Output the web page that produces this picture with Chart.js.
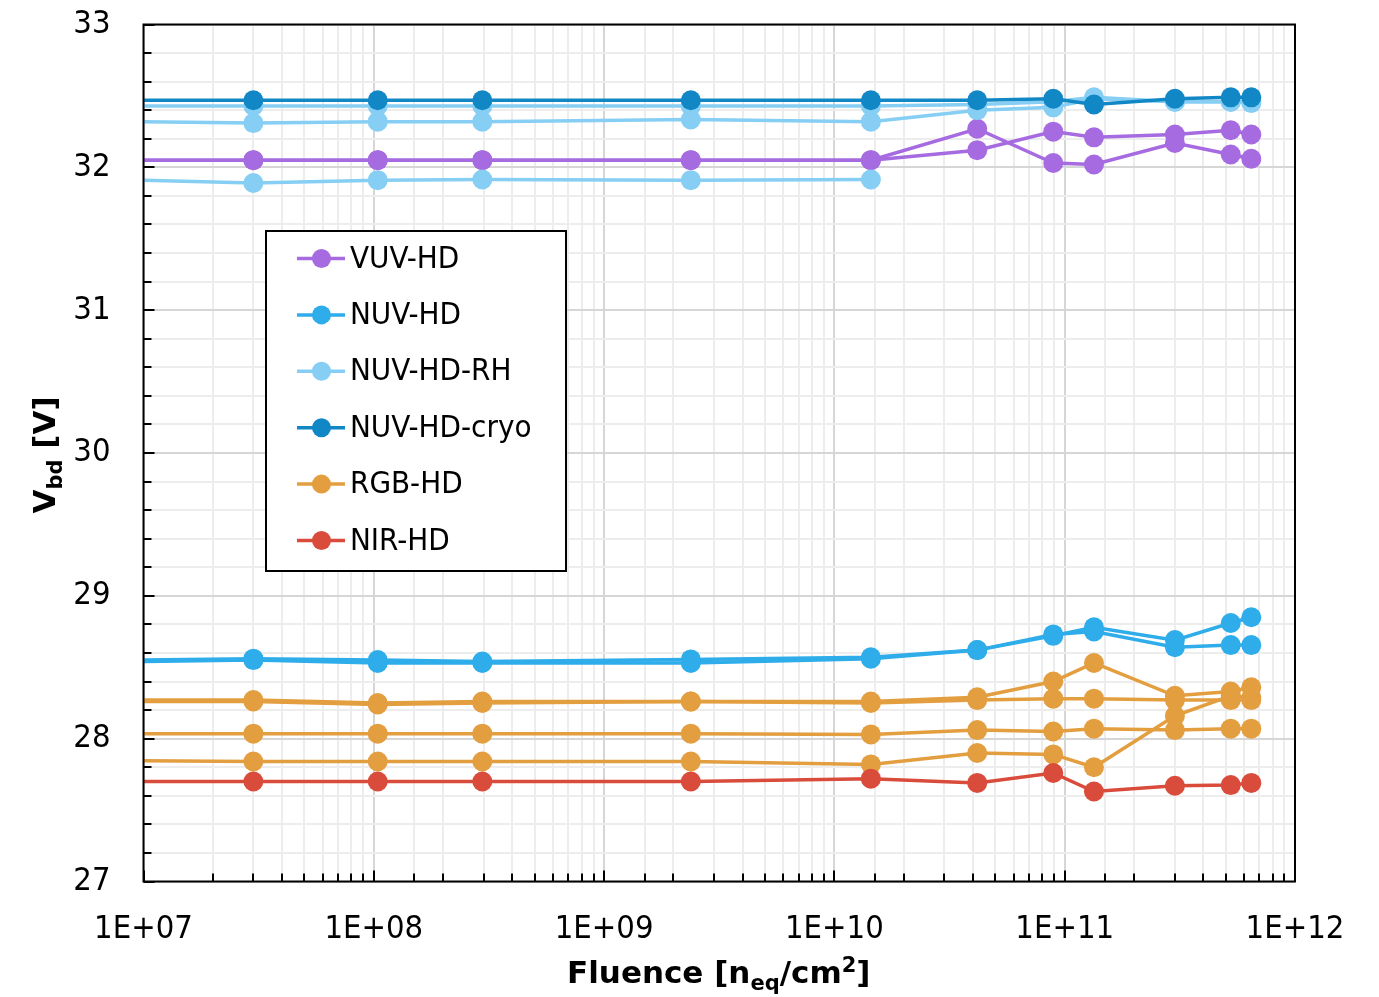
<!DOCTYPE html>
<html>
<head>
<meta charset="utf-8">
<style>
  html, body { margin: 0; padding: 0; background: #ffffff; }
  canvas { display: block; }
</style>
<script src="https://cdn.jsdelivr.net/npm/chart.js@4.4.1/dist/chart.umd.min.js"></script>
</head>
<body>
<canvas id="chart" width="1379" height="997"></canvas>
<script>
// Fluence steps [n_eq/cm^2]; the first entry is the pre-irradiation reference
const fluence = [1e7, 3.0e7, 1.04e8, 2.96e8, 2.38e9, 1.44e10, 4.17e10, 8.92e10, 1.34e11, 3.01e11, 5.26e11, 6.46e11];

// Breakdown voltage [V] per device, one value per fluence step (null = not measured)
const vuvA  = [32.05, 32.05, 32.05, 32.05, 32.05, 32.05, 32.27, 32.03, 32.02, 32.17, 32.09, 32.06];
const vuvB  = [32.05, 32.05, 32.05, 32.05, 32.05, 32.05, 32.12, 32.25, 32.21, 32.23, 32.26, 32.23];
const nuvA  = [28.55, 28.56, 28.55, 28.54, 28.555, 28.57, 28.62, 28.72, 28.78, 28.69, 28.81, 28.85];
const nuvB  = [28.54, 28.55, 28.53, 28.53, 28.53, 28.56, 28.62, 28.73, 28.75, 28.64, 28.655, 28.655];
const rhA   = [32.43, 32.43, 32.43, 32.43, 32.43, 32.43, 32.44, 32.46, 32.49, 32.46, 32.46, 32.46];
const rhB   = [32.32, 32.31, 32.32, 32.32, 32.335, 32.32, 32.40, 32.42, 32.48, 32.46, 32.46, 32.45];
const rhC   = [31.91, 31.89, 31.91, 31.915, 31.91, 31.915, null, null, null, null, null, null];
const cryoA = [32.47, 32.47, 32.47, 32.47, 32.47, 32.47, 32.47, 32.48, 32.44, 32.48, 32.49, 32.49];
const rgbA  = [28.27, 28.27, 28.25, 28.26, 28.26, 28.26, 28.29, 28.40, 28.53, 28.30, 28.33, 28.36];
const rgbB  = [28.26, 28.26, 28.24, 28.25, 28.26, 28.25, 28.27, 28.28, 28.28, 28.27, 28.27, 28.27];
const rgbC  = [28.035, 28.035, 28.035, 28.035, 28.035, 28.03, 28.06, 28.05, 28.07, 28.06, 28.07, 28.07];
const rgbD  = [27.845, 27.84, 27.84, 27.84, 27.84, 27.82, 27.90, 27.89, 27.80, 28.16, 28.30, 28.29];
const nirA  = [27.70, 27.70, 27.70, 27.70, 27.70, 27.72, 27.69, 27.76, 27.63, 27.67, 27.675, 27.69];

// Technologies, in legend order, with their devices
const families = ['VUV-HD', 'NUV-HD', 'NUV-HD-RH', 'NUV-HD-cryo', 'RGB-HD', 'NIR-HD'];
const familyColors = ['#A66BE0', '#2EADEA', '#86CEF3', '#1287C5', '#E39E40', '#D94C3C'];
const familyDevices = [[vuvA, vuvB], [nuvA, nuvB], [rhA, rhB, rhC], [cryoA], [rgbA, rgbB, rgbC, rgbD], [nirA]];

// Axis labels
const xTickPowers = [7, 8, 9, 10, 11, 12];
const yTickLabels = [27, 28, 29, 30, 31, 32, 33];

const TICK_FONT = '"DejaVu Sans Condensed", "Liberation Sans", sans-serif';
const TITLE_FONT = '"DejaVu Sans", "Liberation Sans", sans-serif';

const isDecade = v => {
  const e = Math.log10(v);
  return Math.abs(e - Math.round(e)) < 1e-9;
};
const isInteger = v => Math.abs(v - Math.round(v)) < 1e-6;

const datasets = [];
familyDevices.forEach((devices, f) => {
  devices.forEach(values => {
    const pts = [];
    values.forEach((v, i) => { if (v !== null) pts.push({ x: fluence[i], y: v }); });
    datasets.push({
      label: families[f],
      data: pts,
      borderColor: familyColors[f],
      backgroundColor: familyColors[f],
      pointBackgroundColor: familyColors[f],
      borderWidth: 3.5,
      pointBorderWidth: 0,
      pointRadius: ctx => (ctx.raw && ctx.raw.x === fluence[0]) ? 0 : 10,
      pointHoverRadius: 10,
      tension: 0,
      order: 100 - f
    });
  });
});

// Inner tick marks and the plot frame
const frameAndTicks = {
  id: 'frameAndTicks',
  afterDatasetsDraw(chart) {
    const { ctx, chartArea: a, scales: { x, y } } = chart;
    ctx.save();
    ctx.strokeStyle = '#000000';
    ctx.lineWidth = 2;
    ctx.beginPath();
    x.ticks.forEach(t => {
      const px = Math.round(x.getPixelForValue(t.value));
      const len = isDecade(t.value) ? 11 : 8;
      ctx.moveTo(px, a.bottom);
      ctx.lineTo(px, a.bottom - len);
    });
    y.ticks.forEach(t => {
      const py = Math.round(y.getPixelForValue(t.value));
      const len = isInteger(t.value) ? 11 : 8;
      ctx.moveTo(a.left, py);
      ctx.lineTo(a.left + len, py);
    });
    ctx.stroke();
    ctx.strokeRect(a.left, a.top, a.right - a.left, a.bottom - a.top);
    ctx.restore();
  }
};

// Boxed legend inside the plot, one entry per technology
const legendBox = {
  id: 'legendBox',
  afterDatasetsDraw(chart) {
    const ctx = chart.ctx;
    const bx = 266, by = 231, bw = 300, bh = 340;
    ctx.save();
    ctx.fillStyle = '#ffffff';
    ctx.fillRect(bx, by, bw, bh);
    ctx.strokeStyle = '#000000';
    ctx.lineWidth = 2;
    ctx.strokeRect(bx, by, bw, bh);
    ctx.font = '31px ' + TICK_FONT;
    ctx.textBaseline = 'middle';
    ctx.textAlign = 'left';
    families.forEach((name, i) => {
      const cy = 258.5 + i * 56.4;
      ctx.strokeStyle = familyColors[i];
      ctx.lineWidth = 3.5;
      ctx.beginPath();
      ctx.moveTo(297, cy);
      ctx.lineTo(345, cy);
      ctx.stroke();
      ctx.fillStyle = familyColors[i];
      ctx.beginPath();
      ctx.arc(321.5, cy, 9.5, 0, Math.PI * 2);
      ctx.fill();
      ctx.fillStyle = '#000000';
      ctx.fillText(name, 350, cy + 1);
    });
    ctx.restore();
  }
};

// Draws a run of text pieces (with sub/superscripts) centred on the origin
function drawRich(ctx, pieces, size) {
  const setFont = p => { ctx.font = 'bold ' + Math.round(size * (p.scale || 1)) + 'px ' + TITLE_FONT; };
  const total = pieces.reduce((s, p) => { setFont(p); return s + ctx.measureText(p.text).width; }, 0);
  let cx = -total / 2;
  pieces.forEach(p => {
    setFont(p);
    const w = ctx.measureText(p.text).width;
    ctx.fillText(p.text, cx, p.dy || 0);
    cx += w;
  });
}

const axisTitles = {
  id: 'axisTitles',
  afterDraw(chart) {
    const { ctx, chartArea: a } = chart;
    ctx.save();
    ctx.fillStyle = '#000000';
    ctx.textBaseline = 'alphabetic';
    ctx.textAlign = 'left';
    // x title
    ctx.save();
    ctx.translate((a.left + a.right) / 2 - 0.5, 983);
    drawRich(ctx, [
      { text: 'Fluence [n' },
      { text: 'eq', scale: 0.68, dy: 7 },
      { text: '/cm' },
      { text: '2', scale: 0.68, dy: -11 },
      { text: ']' }
    ], 30.5);
    ctx.restore();
    // y title
    ctx.save();
    ctx.translate(55, 455);
    ctx.rotate(-Math.PI / 2);
    drawRich(ctx, [
      { text: 'V' },
      { text: 'bd', scale: 0.68, dy: 7 },
      { text: ' [V]' }
    ], 30.5);
    ctx.restore();
    ctx.restore();
  }
};

new Chart(document.getElementById('chart'), {
  type: 'line',
  data: { datasets },
  options: {
    responsive: false,
    devicePixelRatio: 1,
    animation: false,
    layout: { padding: { left: 0, right: 84, top: 24.5, bottom: 0 } },
    plugins: {
      legend: { display: false },
      tooltip: { enabled: false },
      title: { display: false }
    },
    scales: {
      x: {
        type: 'logarithmic',
        min: 1e7,
        max: 1e12,
        afterFit: s => { s.height = 115.5; s.paddingLeft = 0; s.paddingRight = 0; },
        border: { display: false },
        grid: {
          drawTicks: false,
          lineWidth: 2,
          color: c => (c.tick && isDecade(c.tick.value)) ? '#D6D6D6' : '#EDEDED'
        },
        ticks: {
          autoSkip: false,
          maxRotation: 0,
          minRotation: 0,
          padding: 29,
          color: '#000000',
          font: { family: TICK_FONT, size: 32.5 },
          callback: v => {
            const p = Math.round(Math.log10(v));
            return (isDecade(v) && xTickPowers.includes(p)) ? '1E+' + String(p).padStart(2, '0') : '';
          }
        }
      },
      y: {
        type: 'linear',
        min: 27,
        max: 33,
        afterFit: s => { s.width = 143.5; s.paddingTop = 0; s.paddingBottom = 0; },
        border: { display: false },
        grid: {
          drawTicks: false,
          lineWidth: 2,
          color: c => (c.tick && isInteger(c.tick.value)) ? '#D6D6D6' : '#EDEDED'
        },
        ticks: {
          stepSize: 0.2,
          autoSkip: false,
          padding: 33,
          color: '#000000',
          font: { family: TICK_FONT, size: 32.5 },
          callback: v => {
            if (!isInteger(v)) return '';
            const n = Math.round(v);
            return yTickLabels.includes(n) ? String(n) : '';
          }
        }
      }
    }
  },
  plugins: [frameAndTicks, legendBox, axisTitles]
});
</script>
</body>
</html>
